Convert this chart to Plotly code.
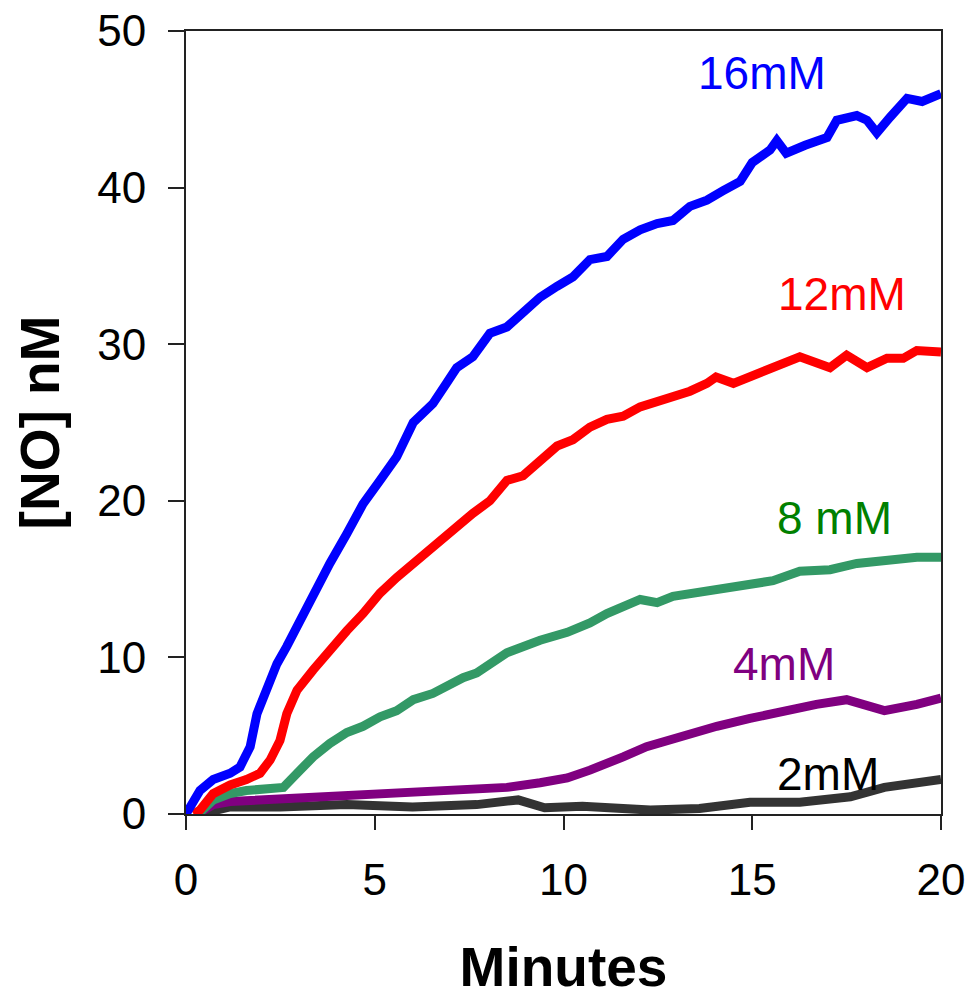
import plotly.graph_objects as go

# ---- data (minutes, nM) ----
x16 = [0, 0.1, 0.37, 0.72, 1.17, 1.43, 1.7, 1.88, 2.14, 2.41, 2.67, 3.02, 3.37, 3.81, 4.26, 4.69, 5.14, 5.58, 6.02, 6.54,
       6.9, 7.17, 7.6, 8.05, 8.5, 8.93, 9.38, 9.83, 10.25, 10.7, 11.15, 11.58, 12.03, 12.48, 12.9, 13.35, 13.8, 14.23,
       14.68, 15.0, 15.47, 15.65, 15.9, 16.4, 16.98, 17.24, 17.77, 18.04, 18.3, 18.65, 19.1, 19.5, 20.0]
y16 = [0, 0.45, 1.5, 2.2, 2.6, 3.0, 4.3, 6.4, 8.1, 9.6, 10.7, 12.4, 14.1, 16.0, 17.9, 19.8, 21.3, 22.8, 25.0, 26.2,
       27.5, 28.5, 29.2, 30.7, 31.1, 32.0, 33.0, 33.7, 34.3, 35.4, 35.6, 36.7, 37.3, 37.7, 37.9, 38.8, 39.2, 39.8,
       40.4, 41.6, 42.4, 43.0, 42.2, 42.7, 43.2, 44.3, 44.6, 44.3, 43.5, 44.5, 45.7, 45.5, 46.0]

x12 = [0.2, 0.37, 0.72, 1.17, 1.6, 1.96, 2.23, 2.49, 2.67, 2.94, 3.37, 3.81, 4.26, 4.69, 5.14, 5.58, 6.02, 6.54, 6.9,
       7.17, 7.6, 8.05, 8.5, 8.93, 9.38, 9.83, 10.25, 10.7, 11.15, 11.58, 12.03, 12.48, 12.9, 13.35, 13.8, 14.04,
       14.5, 15.1, 15.55, 16.26, 17.06, 17.5, 18.04, 18.57, 19.0, 19.36, 20.0]
y12 = [0, 0.25, 1.3, 1.85, 2.2, 2.6, 3.45, 4.7, 6.4, 7.9, 9.2, 10.5, 11.7, 12.8, 14.1, 15.1, 16.0, 17.1, 17.9,
       18.3, 19.2, 20.0, 21.3, 21.6, 22.6, 23.5, 23.9, 24.7, 25.2, 25.4, 26.0, 26.3, 26.6, 27.0, 27.5, 27.9,
       27.5, 28.1, 28.5, 29.2, 28.5, 29.3, 28.5, 29.1, 29.1, 29.6, 29.5]

x8 = [0.25, 0.37, 0.72, 1.17, 1.6, 2.05, 2.58, 2.94, 3.37, 3.81, 4.26, 4.69, 5.14, 5.58, 6.02, 6.54, 6.9, 7.34, 7.7,
      8.5, 9.38, 10.1, 10.7, 11.15, 12.03, 12.48, 12.9, 13.8, 14.68, 15.55, 16.26, 17.06, 17.77, 18.65, 19.36, 20.0]
y8 = [0, 0.1, 0.9, 1.3, 1.5, 1.65, 1.7, 2.6, 3.65, 4.5, 5.2, 5.6, 6.2, 6.6, 7.3, 7.7, 8.2, 8.7, 9.0,
      10.3, 11.1, 11.6, 12.2, 12.8, 13.7, 13.5, 13.9, 14.2, 14.5, 14.9, 15.5, 15.6, 16.0, 16.2, 16.4, 16.4]

x4 = [0.3, 0.72, 1.17, 2.05, 3.0, 4.26, 6.0, 7.7, 8.5, 9.38, 10.1, 10.7, 11.15, 11.58, 12.2, 12.9, 13.35, 14.06,
      14.94, 15.8, 16.7, 17.5, 18.04, 18.5, 19.36, 20.0]
y4 = [0, 0.6, 0.8, 0.9, 1.1, 1.2, 1.3, 1.5, 1.7, 2.0, 2.3, 2.8, 3.2, 3.65, 4.3, 4.8, 5.2, 5.6,
      6.1, 6.6, 7.0, 7.3, 6.9, 6.6, 7.0, 7.4]

x2 = [0.35, 0.72, 1.17, 2.5, 4.26, 6.0, 7.7, 8.8, 9.5, 10.5, 11.5, 12.3, 13.6, 14.94, 16.26, 17.6, 18.5, 19.3, 20.0]
y2 = [0, 0.25, 0.45, 0.45, 0.6, 0.45, 0.6, 0.9, 0.4, 0.5, 0.35, 0.25, 0.35, 0.75, 0.75, 1.1, 1.7, 1.9, 2.2]

series_names = ["16mM", "12mM", "8 mM", "4mM", "2mM"]
line_colors = ["#0000FF", "#FF0000", "#339966", "#800080", "#333333"]
label_colors = ["#0000FF", "#FF0000", "#008000", "#800080", "#000000"]
label_x = [15.26, 17.38, 17.17, 15.85, 17.0]
label_y = [47.3, 33.2, 18.9, 9.6, 2.55]

xs = [x16, x12, x8, x4, x2]
ys = [y16, y12, y8, y4, y2]

fig = go.Figure()
for i in reversed(range(5)):
    fig.add_trace(go.Scatter(x=xs[i], y=ys[i], mode="lines", name=series_names[i],
                             line=dict(color=line_colors[i], width=9), showlegend=False))

for i in range(5):
    fig.add_annotation(x=label_x[i], y=label_y[i], text=series_names[i], showarrow=False,
                       font=dict(family="Liberation Sans, Arial", size=46, color=label_colors[i]),
                       xanchor="center", yanchor="middle")

axis_common = dict(showline=True, linecolor="#222222", linewidth=2, mirror=True,
                   ticks="outside", tickcolor="#222222", tickwidth=2,
                   showgrid=False, zeroline=False, ticklabeloverflow="allow",
                   tickfont=dict(family="Liberation Sans, Arial", size=44, color="#000000"))

fig.update_xaxes(range=[0, 20], tickvals=[0, 5, 10, 15, 20], ticklen=14, ticklabelstandoff=12,
                 title=dict(text="<b>Minutes</b>", standoff=55,
                            font=dict(family="Liberation Sans, Arial", size=55, color="#000000")),
                 **axis_common)
fig.update_yaxes(range=[0, 50], tickvals=[0, 10, 20, 30, 40, 50], ticklen=16, ticklabelstandoff=13,
                 title=dict(text="<b>[NO] nM</b>", standoff=20,
                            font=dict(family="Liberation Sans, Arial", size=55, color="#000000")),
                 **axis_common)

fig.update_layout(width=975, height=998, plot_bgcolor="white", paper_bgcolor="white",
                  margin=dict(l=186, r=34, t=31, b=184, autoexpand=False))

# remove the browser's default 8px body margin so the figure fills the window exactly
fig.write_html("out.html", config={"displayModeBar": False},
               post_script="document.body.style.margin='0';")
